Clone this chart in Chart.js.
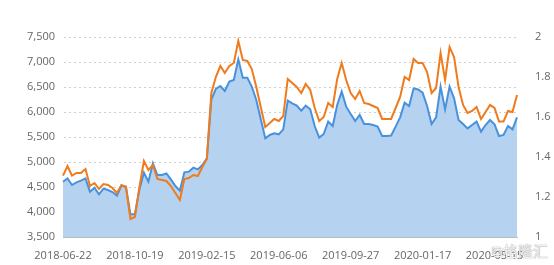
<!DOCTYPE html>
<html>
<head>
<meta charset="utf-8">
<script src="https://cdn.jsdelivr.net/npm/chart.js@4/dist/chart.umd.min.js"></script>
<style>
  html, body { margin: 0; padding: 0; background: #fff; }
  #wrap { position: relative; width: 554px; height: 265px; }
  #mark {
    position: absolute; right: 6px; bottom: 4px;
    font: 15px "Noto Sans CJK SC", sans-serif;
    color: rgba(255,255,255,0.85);
    text-shadow: 0 0 1px #999, 0 0 1px #999;
  }
</style>
</head>
<body>
<div id="wrap">
  <canvas id="lineChart" width="554" height="265"></canvas>
  <div id="mark">⧉格隆汇</div>
</div>
<script>
const dates = [
  "2018-06-22","2018-06-29","2018-07-06","2018-07-13","2018-07-20","2018-07-27","2018-08-03","2018-08-10",
  "2018-08-17","2018-08-24","2018-08-31","2018-09-07","2018-09-14","2018-09-21","2018-09-28","2018-10-12",
  "2018-10-19","2018-10-26","2018-11-02","2018-11-09","2018-11-16","2018-11-23","2018-11-30","2018-12-07",
  "2018-12-14","2018-12-21","2018-12-28","2019-01-04","2019-01-11","2019-01-18","2019-01-25","2019-02-01",
  "2019-02-15","2019-02-22","2019-03-01","2019-03-08","2019-03-15","2019-03-22","2019-03-29","2019-04-04",
  "2019-04-12","2019-04-19","2019-04-26","2019-04-30","2019-05-10","2019-05-17","2019-05-24","2019-05-31",
  "2019-06-06","2019-06-14","2019-06-21","2019-06-28","2019-07-05","2019-07-12","2019-07-19","2019-07-26",
  "2019-08-02","2019-08-09","2019-08-16","2019-08-23","2019-08-30","2019-09-06","2019-09-12","2019-09-20",
  "2019-09-27","2019-09-30","2019-10-11","2019-10-18","2019-10-25","2019-11-01","2019-11-08","2019-11-15",
  "2019-11-22","2019-11-29","2019-12-06","2019-12-13","2019-12-20","2019-12-27","2020-01-03","2020-01-10",
  "2020-01-17","2020-01-23","2020-02-07","2020-02-14","2020-02-21","2020-02-28","2020-03-06","2020-03-13",
  "2020-03-20","2020-03-27","2020-04-03","2020-04-10","2020-04-17","2020-04-24","2020-04-30","2020-05-08",
  "2020-05-15","2020-05-22","2020-05-29","2020-06-05","2020-06-12","2020-06-19"
];

// left axis, filled area
const blueValues = [
  4606, 4673, 4540, 4593, 4627, 4673, 4407, 4487, 4353, 4467, 4440, 4400, 4327, 4527, 4507, 3953,
  3960, 4450, 4787, 4607, 4973, 4740, 4740, 4770, 4653, 4520, 4427, 4793, 4807, 4887, 4853, 4940,
  5073, 6250, 6460, 6520, 6420, 6607, 6640, 7053, 6687, 6687, 6507, 6240, 5853, 5473, 5540, 5573,
  5553, 5653, 6227, 6173, 6127, 6027, 6127, 6053, 5720, 5487, 5560, 5807, 5720, 6140, 6407, 6107,
  5960, 5820, 5940, 5760, 5760, 5740, 5707, 5520, 5520, 5530, 5707, 5893, 6187, 6120, 6473, 6450,
  6387, 6120, 5760, 5893, 6507, 6053, 6507, 6273, 5840, 5760, 5673, 5740, 5807, 5607, 5740, 5840,
  5753, 5520, 5540, 5720, 5653, 5893
];

// right axis, line
const orangeValues = [
  1.307, 1.355, 1.307, 1.32, 1.32, 1.34, 1.255, 1.27, 1.24, 1.265, 1.26, 1.245, 1.22, 1.26, 1.25, 1.09,
  1.10, 1.25, 1.38, 1.335, 1.36, 1.29, 1.285, 1.28, 1.255, 1.22, 1.185, 1.29, 1.295, 1.31, 1.305, 1.35,
  1.39, 1.72, 1.80, 1.855, 1.82, 1.855, 1.87, 1.98, 1.885, 1.88, 1.84, 1.75, 1.65, 1.55, 1.57, 1.59,
  1.58, 1.605, 1.79, 1.77, 1.75, 1.72, 1.765, 1.735, 1.645, 1.58, 1.60, 1.67, 1.65, 1.79, 1.87, 1.785,
  1.72, 1.69, 1.73, 1.67, 1.665, 1.655, 1.645, 1.59, 1.59, 1.59, 1.645, 1.70, 1.80, 1.785, 1.89, 1.87,
  1.87, 1.825, 1.72, 1.745, 1.92, 1.785, 1.95, 1.90, 1.75, 1.66, 1.62, 1.63, 1.65, 1.59, 1.625, 1.66,
  1.645, 1.577, 1.577, 1.63, 1.625, 1.71
];

const labelEvery = 16;
const tickFont = { family: "'Open Sans', sans-serif", size: 11 };

const ctx = document.getElementById("lineChart").getContext("2d");

new Chart(ctx, {
  type: "line",
  data: {
    labels: dates,
    datasets: [
      {
        data: orangeValues,
        yAxisID: "y1",
        borderColor: "#f07b1d",
        borderWidth: 2,
        pointRadius: 0,
        fill: false,
        tension: 0,
      },
      {
        data: blueValues,
        yAxisID: "y",
        borderColor: "#4891dc",
        backgroundColor: "#b5d3f0",
        borderWidth: 2,
        pointRadius: 0,
        fill: "start",
        tension: 0,
      },
    ],
  },
  options: {
    responsive: false,
    animation: false,
    layout: { padding: { top: 37, left: 0, right: 0, bottom: 0 } },
    plugins: { legend: { display: false }, tooltip: { enabled: false } },
    scales: {
      x: {
        offset: false,
        grid: { display: false },
        border: { display: true, color: "#bbb" },
        ticks: {
          autoSkip: false,
          maxRotation: 0,
          minRotation: 0,
          padding: 4,
          color: "#666",
          font: tickFont,
          callback: (val, i) => (i % labelEvery === 0 ? dates[i] : null),
        },
        afterFit: (s) => { s.height = 28; },
      },
      y: {
        position: "left",
        min: 3500,
        max: 7500,
        grid: { color: "#cfcfcf", drawTicks: false },
        border: { display: true, color: "rgba(0,0,0,0)", dash: [2, 3] },
        ticks: {
          stepSize: 500,
          padding: 8,
          color: "#666",
          font: tickFont,
          callback: (v) => v.toLocaleString("en-US"),
        },
        afterFit: (s) => { s.width = 63; },
      },
      y1: {
        position: "right",
        min: 1,
        max: 2,
        grid: { display: false },
        border: { display: false },
        ticks: {
          stepSize: 0.2,
          padding: 10,
          color: "#666",
          font: tickFont,
          callback: (v) => String(Number(v.toFixed(1))),
        },
        afterFit: (s) => { s.width = 37; },
      },
    },
  },
});
</script>
</body>
</html>
